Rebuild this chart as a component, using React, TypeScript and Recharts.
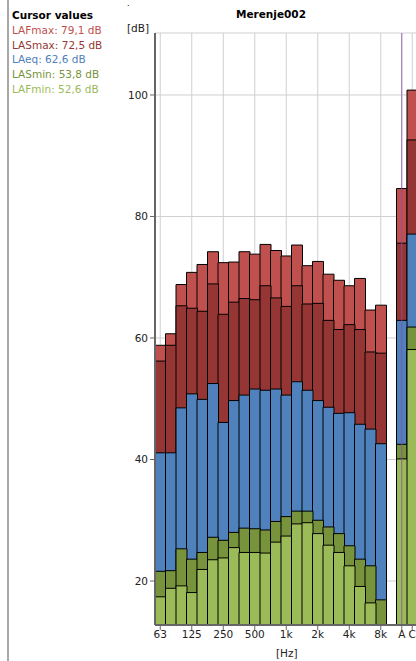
import { BarChart, Bar, XAxis, YAxis, CartesianGrid, ReferenceLine } from 'recharts'

// 1/3 octave bands, an empty slot, then the A and C totals
const bands = ['63', '80', '100', '125', '160', '200', '250', '315', '400', '500', '630', '800', '1k', '1.25k', '1.6k', '2k', '2.5k', '3.15k', '4k', '5k', '6.3k', '8k', '', 'A', 'C']
const shownTicks = ['63', '125', '250', '500', '1k', '2k', '4k', '8k', 'A', 'C']
const dbTicks = [20, 40, 60, 80, 100]

const lafmax = [58.8, 60.7, 68.8, 70.8, 72.1, 74.2, 72.4, 72.5, 74.2, 73.8, 75.4, 74.4, 73.5, 75.3, 71.9, 72.6, 70.5, 69.5, 68.6, 69.8, 64.6, 65.4, null, 84.6, 100.8]
const lasmax = [56.2, 58.8, 65.3, 64.9, 64.4, 68.9, 63.9, 65.9, 66.5, 66.3, 68.6, 66.6, 65.2, 68.6, 65.6, 65.7, 62.9, 61.4, 62.2, 61.4, 57.7, 57.5, null, 75.6, 92.6]
const laeq = [41.1, 41.1, 48.5, 50.8, 49.9, 52.5, 46.1, 49.7, 50.6, 51.6, 51.4, 51.6, 50.6, 52.8, 51.4, 49.7, 48.6, 47.6, 47.7, 45.8, 45.0, 42.6, null, 62.9, 77.1]
const lasmin = [21.6, 21.7, 25.3, 23.6, 24.7, 27.2, 26.7, 28.0, 28.7, 28.6, 28.4, 29.8, 30.6, 31.5, 31.5, 30.0, 28.9, 27.8, 25.8, 23.6, 22.5, 16.9, null, 42.5, 61.8]
const lafmin = [17.4, 18.8, 19.2, 18.1, 21.9, 23.5, 23.8, 25.5, 24.7, 24.7, 24.6, 26.4, 27.4, 29.4, 29.6, 27.8, 25.9, 24.7, 22.5, 19.1, 16.4, 12.76, null, 40.1, 58.1]

const cursorValues = [
  { name: 'LAFmax', value: '79,1', color: '#c0504d' },
  { name: 'LASmax', value: '72,5', color: '#953735' },
  { name: 'LAeq', value: '62,6', color: '#4f81bd' },
  { name: 'LASmin', value: '53,8', color: '#77933c' },
  { name: 'LAFmin', value: '52,6', color: '#9bbb59' },
]

const data = bands.map((band, i) => ({
  band,
  lafmax: lafmax[i],
  lasmax: lasmax[i],
  laeq: laeq[i],
  lasmin: lasmin[i],
  lafmin: lafmin[i],
}))

// drawn back to front, each on its own x axis so they overlap
const series = [
  { key: 'lafmax', color: '#c0504d' },
  { key: 'lasmax', color: '#963634' },
  { key: 'laeq', color: '#4f81bd' },
  { key: 'lasmin', color: '#77933c' },
  { key: 'lafmin', color: '#9bbb59' },
]

const font = '"DejaVu Sans", sans-serif'

export default function App() {
  return (
    <div
      style={{
        position: 'fixed',
        left: 0,
        top: 0,
        width: 416,
        height: 661,
        overflow: 'hidden',
        background: '#fff',
        fontFamily: font,
      }}
    >
      {/* Cursor panel */}
      <div style={{ position: 'absolute', left: 7, top: 0, width: 2, height: 661, background: '#a8a8a8' }} />
      <div style={{ position: 'absolute', left: 12, top: 8, fontSize: 10.5, fontWeight: 'bold', color: '#000', lineHeight: '14px' }}>
        Cursor values
      </div>
      {cursorValues.map((c, i) => (
        <div
          key={c.name}
          style={{ position: 'absolute', left: 12, top: 23 + i * 14.7, fontSize: 10.5, color: c.color, lineHeight: '14px', whiteSpace: 'nowrap' }}
        >
          {c.name}: {c.value} dB
        </div>
      ))}

      <div style={{ position: 'absolute', left: 127, top: 0, fontSize: 8, lineHeight: '8px', color: '#000' }}>.</div>
      <div style={{ position: 'absolute', left: 200, top: 7, width: 142, textAlign: 'center', fontSize: 10.5, fontWeight: 'bold', lineHeight: '14px' }}>
        Merenje002
      </div>
      <div style={{ position: 'absolute', left: 127, top: 21, fontSize: 10.5, lineHeight: '14px', color: '#222' }}>[dB]</div>
      <div style={{ position: 'absolute', left: 276, top: 646, fontSize: 10.5, lineHeight: '14px', color: '#222' }}>[Hz]</div>

      <div style={{ position: 'absolute', left: 0, top: 0 }}>
        <BarChart
          width={418}
          height={661}
          data={data}
          margin={{ top: 33, right: 0.5, bottom: 6, left: 95 }}
          barCategoryGap={0}
          barGap={0}
        >
          <CartesianGrid stroke="#cfcfcf" xAxisId={0} />
          <XAxis
            xAxisId={0}
            dataKey="band"
            ticks={shownTicks}
            interval={0}
            height={30}
            tickSize={5}
            tickMargin={1}
            stroke="#666"
            axisLine={{ stroke: '#666', strokeWidth: 2 }}
            tick={{ fill: '#222', fontSize: 10.5 }}
          />
          {[1, 2, 3, 4].map((id) => (
            <XAxis key={id} xAxisId={id} dataKey="band" hide />
          ))}
          <YAxis
            width={60}
            domain={[12.76, 110.2]}
            ticks={dbTicks}
            allowDataOverflow
            tickSize={5}
            tickMargin={2}
            stroke="#666"
            axisLine={{ stroke: '#666', strokeWidth: 2 }}
            tick={{ fill: '#222', fontSize: 10.5 }}
          />
          {series.map((s, i) => (
            <Bar
              key={s.key}
              xAxisId={i}
              dataKey={s.key}
              fill={s.color}
              stroke="#000"
              strokeWidth={1}
              isAnimationActive={false}
            />
          ))}
          <ReferenceLine xAxisId={0} x="A" stroke="#8a4fa8" strokeOpacity={0.8} />
        </BarChart>
      </div>
    </div>
  )
}
